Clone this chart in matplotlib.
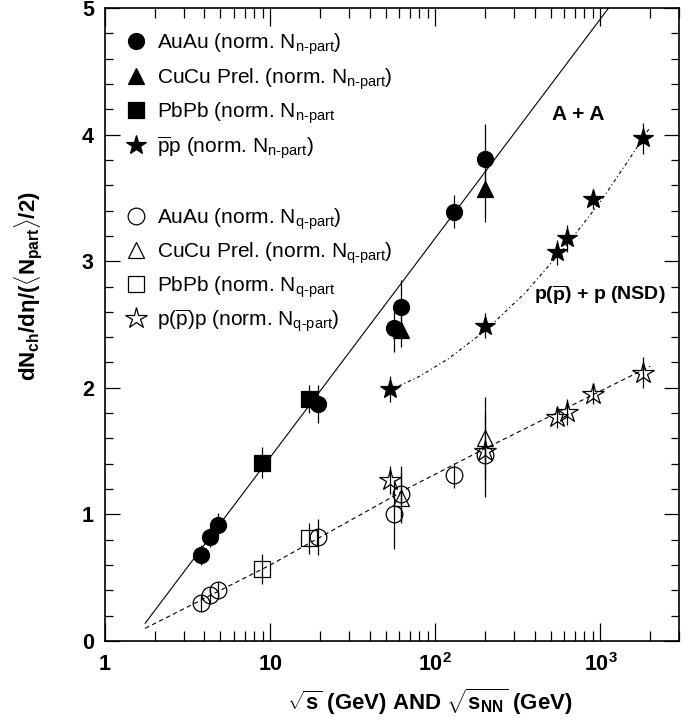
import matplotlib
matplotlib.use("Agg")
import matplotlib.pyplot as plt
from matplotlib.ticker import FixedLocator, MultipleLocator, NullFormatter

plt.rcParams['font.family'] = ['Liberation Sans', 'DejaVu Sans']
plt.rcParams['mathtext.fontset'] = 'custom'
plt.rcParams['mathtext.rm'] = 'Liberation Sans'
plt.rcParams['mathtext.it'] = 'Liberation Sans:italic'
plt.rcParams['mathtext.bf'] = 'Liberation Sans:bold'

# AuAu
auau_x = [3.83, 4.3, 4.85, 19.6, 56, 62.4, 130, 200]
auau_n = [0.68, 0.82, 0.92, 1.87, 2.47, 2.64, 3.39, 3.81]
auau_n_err = [0.08, 0.08, 0.09, 0.15, 0.19, 0.21, 0.13, 0.27]
auau_q = [0.30, 0.36, 0.40, 0.82, 1.00, 1.16, 1.31, 1.47]
auau_q_err = [0.06, 0.06, 0.07, 0.14, 0.27, 0.22, 0.10, 0.33]

# CuCu prel.
cucu_x = [62.4, 200]
cucu_n = [2.46, 3.57]
cucu_n_err = [0.14, 0.26]
cucu_q = [1.13, 1.60]
cucu_q_err = [0.20, 0.33]

# PbPb
pbpb_x = [8.9, 17.3]
pbpb_n = [1.41, 1.91]
pbpb_n_err = [0.12, 0.11]
pbpb_q = [0.57, 0.81]
pbpb_q_err = [0.12, 0.12]

# p(pbar)p
pp_x = [53, 200, 546, 630, 900, 1800]
pp_n = [1.99, 2.49, 3.07, 3.18, 3.49, 3.97]
pp_n_err = [0.10, 0.10, 0.10, 0.11, 0.08, 0.12]
pp_q = [1.27, 1.50, 1.77, 1.81, 1.95, 2.12]
pp_q_err = [0.11, 0.08, 0.09, 0.10, 0.08, 0.12]

# fit curves, points
aa_fit_x = [1.75, 1120]
aa_fit_y = [0.14, 5.0]
q_fit_x = [1.75, 10, 69, 200, 2000]
q_fit_y = [0.10, 0.60, 1.21, 1.52, 2.17]
ppfit_x = [53, 80, 120, 200, 350, 600, 1000, 1500, 2000]
ppfit_y = [1.98, 2.09, 2.23, 2.45, 2.75, 3.10, 3.47, 3.81, 4.06]

fig = plt.figure(figsize=(6.91, 7.23), dpi=100)
ax = fig.add_axes([0.152, 0.1134, 0.831, 0.8755])
ax.set_xscale('log')
ax.set_xlim(1, 3000)
ax.set_ylim(0, 5)

ax.plot(aa_fit_x, aa_fit_y, color='black', lw=0.8, zorder=2)
ax.plot(q_fit_x, q_fit_y, color='black', lw=0.8, dashes=(4, 3), zorder=2)
ax.plot(ppfit_x, ppfit_y, color='black', lw=0.8, dashes=(3, 2.5, 1, 2.5), zorder=2)

def series(x, y, err, marker, filled, ms):
    ax.errorbar(x, y, yerr=err, fmt='none', ecolor='black', elinewidth=0.9, capsize=0, zorder=3)
    ax.plot(x, y, ls='none', marker=marker, ms=ms, mec='black', mew=0.9,
            mfc='black' if filled else 'none', zorder=4)

series(auau_x, auau_n, auau_n_err, 'o', True, 11.5)
series(cucu_x, cucu_n, cucu_n_err, '^', True, 11)
series(pbpb_x, pbpb_n, pbpb_n_err, 's', True, 11)
series(pp_x, pp_n, pp_n_err, '*', True, 15)
series(auau_x, auau_q, auau_q_err, 'o', False, 12)
series(cucu_x, cucu_q, cucu_q_err, '^', False, 12)
series(pbpb_x, pbpb_q, pbpb_q_err, 's', False, 11.5)
series(pp_x, pp_q, pp_q_err, '*', False, 16)

# legend drawn by hand
legend_rows = [
    ('o', True, 11.5, 0.948, r'AuAu (norm. N$_{\text{n-part}}$)'),
    ('^', True, 11, 0.893, r'CuCu Prel. (norm. N$_{\text{n-part}}$)'),
    ('s', True, 11, 0.839, r'PbPb (norm. N$_{\text{n-part}}$'),
    ('*', True, 15, 0.784, r'$\overline{\mathrm{p}}$p (norm. N$_{\text{n-part}}$)'),
    ('o', False, 12, 0.672, r'AuAu (norm. N$_{\text{q-part}}$)'),
    ('^', False, 12, 0.618, r'CuCu Prel. (norm. N$_{\text{q-part}}$)'),
    ('s', False, 11.5, 0.564, r'PbPb (norm. N$_{\text{q-part}}$'),
    ('*', False, 16, 0.510, r'p($\overline{\mathrm{p}}$)p (norm. N$_{\text{q-part}}$)'),
]
for mk, filled, ms, yy, label in legend_rows:
    ax.plot([0.054], [yy], transform=ax.transAxes, marker=mk, ms=ms, mec='black',
            mew=0.9, mfc='black' if filled else 'none', ls='none')
    ax.text(0.091, yy - 0.012, label, transform=ax.transAxes, fontsize=15,
            va='baseline', ha='left')

ax.text(730, 4.16, 'A + A', fontsize=15, fontweight='bold', ha='center', va='center')
ax.text(990, 2.73, r'p($\mathbf{\overline{p}}$) + p (NSD)', fontsize=14,
        fontweight='bold', ha='center', va='center')

# axes styling
for sp in ax.spines.values():
    sp.set_linewidth(1.2)
ax.xaxis.set_major_locator(FixedLocator([1, 10, 100, 1000]))
ax.set_xticklabels(['1', '10', r'$\mathbf{10^2}$', r'$\mathbf{10^3}$'])
ax.xaxis.set_minor_formatter(NullFormatter())
ax.yaxis.set_major_locator(MultipleLocator(1))
ax.yaxis.set_minor_locator(MultipleLocator(0.2))
ax.tick_params(which='both', direction='in', top=True, right=True, width=0.9)
ax.tick_params(axis='x', which='major', length=13, pad=9)
ax.tick_params(axis='x', which='minor', length=7)
ax.tick_params(axis='y', which='major', length=11, pad=8)
ax.tick_params(axis='y', which='minor', length=6)
for lab in ax.get_xticklabels() + ax.get_yticklabels():
    lab.set_fontsize(15.5)
    lab.set_fontweight('bold')

ax.set_xlabel(r'$\sqrt{\mathbf{s}}$ (GeV) AND $\sqrt{\mathbf{s}_{\mathbf{NN}}}$ (GeV)',
              fontsize=16, fontweight='bold')
ax.xaxis.set_label_coords(0.566, -0.072)
ax.set_ylabel(r'$\mathbf{dN_{ch}/d\eta/(\langle N_{part}\rangle/2)}$', fontsize=16)
ax.yaxis.set_label_coords(-0.105, 0.56)

fig.savefig('out.png', dpi=100)
